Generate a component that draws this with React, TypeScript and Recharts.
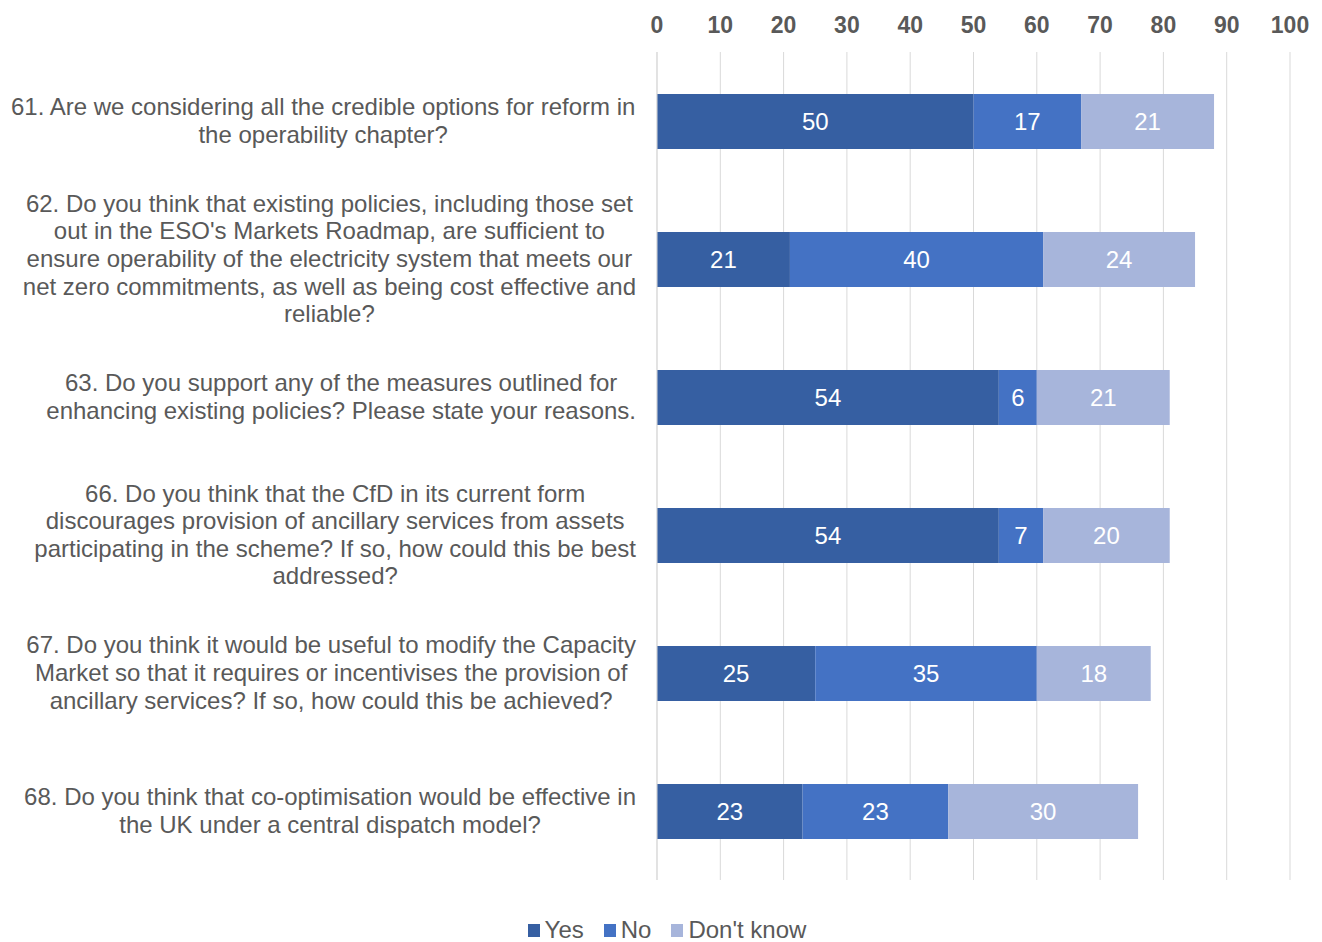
import React from 'react';
import { BarChart, Bar, XAxis, YAxis, CartesianGrid, Legend, LabelList } from 'recharts';

const questions = ['61', '62', '63', '66', '67', '68'];

const questionLines: string[][] = [
  ['61. Are we considering all the credible options for reform in', 'the operability chapter?'],
  [
    '62. Do you think that existing policies, including those set',
    "out in the ESO's Markets Roadmap, are sufficient to",
    'ensure operability of the electricity system that meets our',
    'net zero commitments, as well as being cost effective and',
    'reliable?',
  ],
  ['63. Do you support any of the measures outlined for', 'enhancing existing policies? Please state your reasons.'],
  [
    '66. Do you think that the CfD in its current form',
    'discourages provision of ancillary services from assets',
    'participating in the scheme? If so, how could this be best',
    'addressed?',
  ],
  [
    '67. Do you think it would be useful to modify the Capacity',
    'Market so that it requires or incentivises the provision of',
    'ancillary services? If so, how could this be achieved?',
  ],
  ['68. Do you think that co-optimisation would be effective in', 'the UK under a central dispatch model?'],
];

const yes = [50, 21, 54, 54, 25, 23];
const no = [17, 40, 6, 7, 35, 23];
const dontKnow = [21, 24, 21, 20, 18, 30];

const xTicks = [0, 10, 20, 30, 40, 50, 60, 70, 80, 90, 100];

const FONT = "'Liberation Sans', Arial, sans-serif";
const TEXT = '#595959';
const COLORS = { yes: '#365FA2', no: '#4472C4', dk: '#A7B5DB' };
const FS = 24;

const data = questions.map((q, i) => ({
  q,
  yes: yes[i],
  no: no[i],
  dk: dontKnow[i],
}));

let ctx: CanvasRenderingContext2D | null = null;
const measure = (s: string) => {
  if (!ctx) ctx = document.createElement('canvas').getContext('2d');
  if (!ctx) return s.length * 11;
  ctx.font = `${FS}px ${FONT}`;
  return ctx.measureText(s).width;
};

const QuestionTick = (props: any) => {
  const { y, payload } = props;
  const idx = questions.indexOf(payload.value);
  const lines = questionLines[idx] || [];
  const maxW = Math.max(...lines.map(measure));
  const right = 636;
  const cx = right - maxW / 2;
  const lh = 27.6;
  const start = y - ((lines.length - 1) * lh) / 2 + 8;
  return (
    <text textAnchor="middle" fill={TEXT} fontSize={FS} fontFamily={FONT}>
      {lines.map((l, i) => (
        <tspan key={i} x={cx} y={start + i * lh}>
          {l}
        </tspan>
      ))}
    </text>
  );
};

const LegendContent = () => {
  const items = [
    { label: 'Yes', color: COLORS.yes },
    { label: 'No', color: COLORS.no },
    { label: "Don't know", color: COLORS.dk },
  ];
  return (
    <div
      style={{
        height: 62,
        boxSizing: 'border-box',
        paddingTop: 38,
        paddingLeft: 44,
        display: 'flex',
        justifyContent: 'center',
        fontFamily: FONT,
        fontSize: FS,
        color: TEXT,
        lineHeight: '26px',
      }}
    >
      {items.map((it, i) => (
        <div key={it.label} style={{ display: 'flex', alignItems: 'center', marginLeft: i ? 20 : 0 }}>
          <span style={{ width: 12, height: 13, background: it.color, display: 'inline-block', marginRight: 5 }} />
          <span>{it.label}</span>
        </div>
      ))}
    </div>
  );
};

export default function App() {
  return (
    <div style={{ position: 'absolute', left: 0, top: 0, background: '#fff' }}>
      <BarChart
        width={1322}
        height={942}
        data={data}
        layout="vertical"
        margin={{ top: 0, right: 32, bottom: 0, left: 0 }}
        barSize={55}
      >
        <CartesianGrid horizontal={false} stroke="#D9D9D9" />
        <XAxis
          type="number"
          orientation="top"
          domain={[0, 100]}
          ticks={xTicks}
          height={52}
          axisLine={false}
          tickLine={false}
          tickSize={0}
          tickMargin={19}
          tick={{ fill: TEXT, fontSize: 23, fontWeight: 'bold', fontFamily: FONT }}
          interval={0}
        />
        <YAxis
          type="category"
          dataKey="q"
          width={657}
          axisLine={{ stroke: '#D9D9D9' }}
          tickLine={false}
          tick={<QuestionTick />}
          interval={0}
        />
        <Legend verticalAlign="bottom" content={<LegendContent />} />
        <Bar dataKey="yes" stackId="a" fill={COLORS.yes} isAnimationActive={false}>
          <LabelList dataKey="yes" position="center" fill="#fff" fontSize={FS} fontFamily={FONT} />
        </Bar>
        <Bar dataKey="no" stackId="a" fill={COLORS.no} isAnimationActive={false}>
          <LabelList dataKey="no" position="center" fill="#fff" fontSize={FS} fontFamily={FONT} />
        </Bar>
        <Bar dataKey="dk" stackId="a" fill={COLORS.dk} isAnimationActive={false}>
          <LabelList dataKey="dk" position="center" fill="#fff" fontSize={FS} fontFamily={FONT} />
        </Bar>
      </BarChart>
    </div>
  );
}
